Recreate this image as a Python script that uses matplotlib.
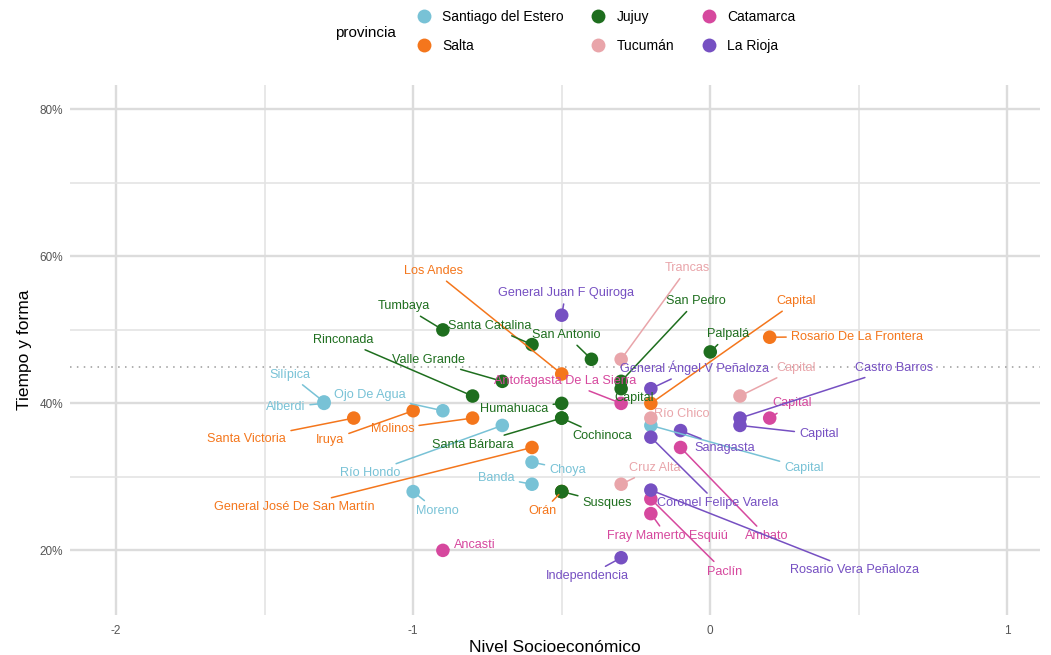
#!/usr/bin/env python3
"""Scatter of departments: socioeconomic level vs. 'tiempo y forma', by province."""

import matplotlib

matplotlib.use("Agg")
import matplotlib.pyplot as plt
from matplotlib.lines import Line2D

plt.rcParams["font.family"] = ["Liberation Sans", "DejaVu Sans"]
plt.rcParams["axes.unicode_minus"] = False

PROVINCIAS = ["Santiago del Estero", "Salta", "Jujuy", "Tucumán", "Catamarca", "La Rioja"]
COLORES = ["#78C2D6", "#F4761C", "#1E6E1E", "#E9A5AA", "#D6489E", "#7650C2"]

# one entry per department: province, name, nivel socioeconómico, tiempo y forma (%)
provincia = (["Santiago del Estero"] * 8 + ["Salta"] * 8 + ["Jujuy"] * 13
             + ["Tucumán"] * 4 + ["Catamarca"] * 6 + ["La Rioja"] * 8)
departamento = [
    "Silípica", "Alberdi", "Ojo De Agua", "Río Hondo", "Moreno", "Choya", "Banda", "Capital",
    "Santa Victoria", "Iruya", "Molinos", "General José De San Martín", "Orán", "Los Andes",
    "Capital", "Rosario De La Frontera",
    "Tumbaya", "Santa Catalina", "Rinconada", "Valle Grande", "Humahuaca", "Cochinoca",
    "Santa Bárbara", "San Antonio", "San Pedro", "Capital", "Palpalá", "Susques", "Yavi",
    "Trancas", "Río Chico", "Cruz Alta", "Capital",
    "Antofagasta De La Sierra", "Ambato", "Capital", "Fray Mamerto Esquiú", "Paclín", "Ancasti",
    "General Juan F Quiroga", "General Ángel V Peñaloza", "Coronel Felipe Varela", "Sanagasta",
    "Castro Barros", "Capital", "Rosario Vera Peñaloza", "Independencia",
]
nse = [
    -1.3, -1.3, -0.9, -0.7, -1.0, -0.6, -0.6, -0.2,
    -1.2, -1.0, -0.8, -0.6, -0.5, -0.5, -0.2, 0.2,
    -0.9, -0.6, -0.8, -0.7, -0.5, -0.5, -0.5, -0.4, -0.3, -0.3, 0.0, -0.5, -0.5,
    -0.3, -0.2, -0.3, 0.1,
    -0.3, -0.1, 0.2, -0.2, -0.2, -0.9,
    -0.5, -0.2, -0.2, -0.1, 0.1, 0.1, -0.2, -0.3,
]
tiempo = [
    40.2, 40, 39, 37, 28, 32, 29, 37,
    38, 39, 38, 34, 28, 44, 40, 49,
    50, 48, 41, 43, 40, 38, 38, 46, 43, 42, 47, 28, 28,
    46, 38, 29, 41,
    40, 34, 38, 25, 27, 20,
    52, 42, 35.4, 36.3, 38, 37, 28.2, 19,
]
promedio = 45

# label placement (data coords), in the same order as the points
label_x = [
    -1.415, -1.43, -1.146, -1.146, -0.92, -0.48, -0.72, 0.316,
    -1.56, -1.28, -1.07, -1.40, -0.565, -0.93, 0.29, 0.494,
    -1.03, -0.743, -1.237, -0.95, -0.66, -0.363, -0.80, -0.484, -0.047, -0.255, 0.06, -0.346, -0.5,
    -0.077, -0.097, -0.188, 0.29,
    -0.49, 0.19, 0.276, -0.145, 0.047, -0.793,
    -0.487, -0.054, 0.024, 0.05, 0.618, 0.366, 0.484, -0.413,
]
label_y = [
    43.9, 39.5, 41.2, 30.5, 25.4, 31.0, 29.9, 31.2,
    35.1, 35.0, 36.5, 25.9, 25.3, 58.0, 53.9, 49.1,
    53.2, 50.5, 48.6, 45.9, 39.3, 35.5, 34.4, 49.3, 53.9, 40.7, 49.4, 26.4, 28,
    58.4, 38.5, 31.2, 44.8,
    43.0, 21.9, 40.0, 21.9, 17.1, 20.7,
    55.0, 44.8, 26.4, 33.9, 44.8, 35.8, 17.3, 16.5,
]
con_etiqueta = [True] * len(departamento)
con_etiqueta[28] = False  # hidden under Orán / Susques


def main():
    color_de = dict(zip(PROVINCIAS, COLORES))

    fig = plt.figure(figsize=(10.51, 6.55), dpi=100)
    ax = fig.add_axes([0.0666, 0.061, 0.923, 0.809])

    ax.axhline(promedio, color="#9a9a9a", linestyle=(0, (1, 3.5)), linewidth=1.1, zorder=1)

    for prov in PROVINCIAS:
        idx = [i for i, p in enumerate(provincia) if p == prov]
        ax.scatter([nse[i] for i in idx], [tiempo[i] for i in idx], s=95,
                   color=color_de[prov], edgecolors="none", zorder=3)

    for i, nombre in enumerate(departamento):
        if not con_etiqueta[i]:
            continue
        col = color_de[provincia[i]]
        ax.annotate(nombre, xy=(nse[i], tiempo[i]), xytext=(label_x[i], label_y[i]),
                    textcoords="data", ha="center", va="center", fontsize=9.1,
                    color=col, zorder=4,
                    arrowprops=dict(arrowstyle="-", color=col, lw=1.1,
                                    shrinkA=1.5, shrinkB=3))

    ax.set_xlim(-2.155, 1.11)
    ax.set_ylim(11.2, 83.3)
    ax.set_xticks([-2, -1, 0, 1])
    ax.set_xticks([-1.5, -0.5, 0.5], minor=True)
    ax.set_yticks([20, 40, 60, 80])
    ax.set_yticks([30, 50, 70], minor=True)
    ax.set_yticklabels([f"{v}%" for v in [20, 40, 60, 80]])
    ax.grid(True, which="major", color="#dcdcdc", linewidth=1.7, zorder=0)
    ax.grid(True, which="minor", color="#e4e4e4", linewidth=1.2, zorder=0)
    ax.set_axisbelow(True)
    for s in ax.spines.values():
        s.set_visible(False)
    ax.tick_params(which="both", length=0, labelsize=8.5, labelcolor="#555555")
    ax.tick_params(axis="x", pad=7)
    ax.tick_params(axis="y", pad=5)

    ax.set_xlabel("Nivel Socioeconómico", fontsize=12.5, labelpad=2)
    ax.set_ylabel("Tiempo y forma", fontsize=12.5, labelpad=5)

    handles = [Line2D([], [], marker="o", linestyle="none", markersize=10,
                      markerfacecolor=c, markeredgecolor="none") for c in COLORES]
    fig.legend(handles, PROVINCIAS, ncol=3, loc="center", bbox_to_anchor=(0.576, 0.952),
               frameon=False, fontsize=10, handletextpad=0.7, columnspacing=1.9,
               labelspacing=1.05, handlelength=1.2)
    fig.text(0.348, 0.950, "provincia", fontsize=11, ha="center", va="center")

    fig.savefig("out.png", dpi=100)


if __name__ == "__main__":
    main()
